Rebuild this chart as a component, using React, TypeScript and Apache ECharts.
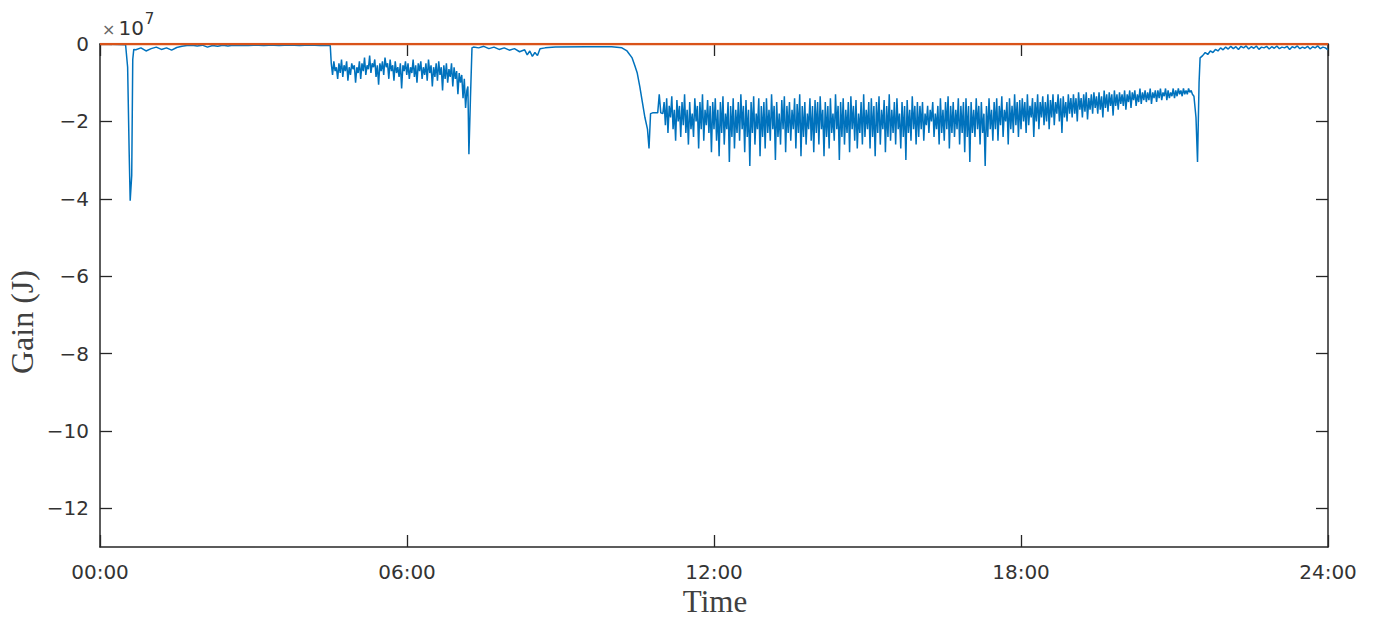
import React, { useEffect, useRef } from "react";
import * as echarts from "echarts";

// Time in hours, gain in units of 1e7 J
const spikeNight: [number, number][] = [
  [0, 0], [0.5, -0.02], [0.54, -0.6], [0.57, -2.8], [0.59, -4.05], [0.62, -3.4], [0.64, -0.4], [0.66, -0.14],
];
const earlyQuietStart = 0.7;
const earlyQuietStep = 0.1;
const earlyQuiet = [
  -0.15, -0.1, -0.18, -0.12, -0.08, -0.14, -0.1, -0.16, -0.09, -0.06,
  -0.04, -0.03, -0.05, -0.03, -0.08, -0.04, -0.06, -0.03, -0.05, -0.03,
  -0.04, -0.03, -0.04, -0.03, -0.03, -0.04, -0.03, -0.03, -0.04, -0.03,
  -0.03, -0.03, -0.04, -0.03, -0.03, -0.03, -0.04, -0.03, -0.04,
];
const morningStart = 4.52;
const morningStep = 0.025;
const morningNoisy = [
  -0.5, -0.8, -0.45, -0.7, -0.6, -0.9, -0.5, -0.75, -0.4, -0.85, -0.55, -0.7, -0.45, -0.95, -0.6, -0.8, -0.5, -0.65, -0.55, -1.0,
  -0.6, -0.75, -0.45, -0.9, -0.5, -0.7, -0.35, -0.8, -0.55, -0.65, -0.3, -0.75, -0.5, -0.6, -0.4, -0.85, -0.55, -1.05, -0.5, -0.7,
  -0.45, -0.8, -0.35, -0.6, -0.5, -0.9, -0.4, -0.7, -0.55, -0.95, -0.45, -0.75, -0.6, -0.85, -0.5, -1.15, -0.55, -0.7, -0.45, -0.8,
  -0.5, -0.9, -0.6, -0.75, -0.4, -0.85, -0.55, -1.0, -0.5, -0.7, -0.45, -0.9, -0.6, -0.8, -0.5, -0.95, -0.4, -0.75, -0.55, -1.1,
  -0.6, -0.85, -0.5, -0.95, -0.45, -0.8, -0.6, -1.2, -0.55, -0.9, -0.5, -1.0, -0.65, -0.85, -0.5, -1.1, -0.6, -0.9, -0.7, -1.3,
  -0.75, -1.0, -0.8, -1.4, -0.9, -1.65, -1.2,
];
const spikeMorning: [number, number][] = [
  [7.19, -1.1], [7.21, -2.85], [7.24, -1.4], [7.27, -0.1],
];
const middayQuiet: [number, number][] = [
  [7.3, -0.08], [7.4, -0.1], [7.5, -0.06], [7.6, -0.12], [7.7, -0.08], [7.8, -0.14],
  [7.9, -0.1], [8.0, -0.16], [8.1, -0.12], [8.2, -0.2], [8.3, -0.15], [8.35, -0.28],
  [8.4, -0.18], [8.45, -0.32], [8.5, -0.22], [8.55, -0.3], [8.6, -0.12], [8.7, -0.1],
  [8.9, -0.08], [9.5, -0.07], [10.0, -0.07], [10.2, -0.1], [10.3, -0.18], [10.4, -0.36],
  [10.45, -0.55], [10.5, -0.75], [10.55, -1.1], [10.6, -1.5], [10.65, -1.9], [10.7, -2.2],
  [10.73, -2.7], [10.76, -1.8], [10.8, -1.78], [10.9, -1.78], [10.93, -1.3], [10.96, -1.78],
];
const afternoonStart = 11.0;
const afternoonStep = 0.025;
const afternoonNoisy = [
  -1.8, -1.5, -2.1, -1.4, -2.3, -1.6, -1.9, -1.35, -2.2, -1.7, -2.5, -1.45, -2.0, -1.6, -2.4, -1.5, -2.1, -1.3, -2.3, -1.7,
  -2.6, -1.5, -2.2, -1.8, -2.4, -1.4, -2.0, -1.6, -2.7, -1.5, -2.2, -1.3, -2.5, -1.7, -2.1, -1.45, -2.3, -1.6, -2.8, -1.5,
  -2.2, -1.4, -2.5, -1.7, -2.9, -1.5, -2.3, -1.35, -2.6, -1.8, -2.2, -1.5, -3.05, -1.6, -2.4, -1.4, -2.7, -1.7, -2.3, -1.5,
  -2.5, -1.3, -2.2, -1.6, -2.8, -1.45, -2.4, -1.7, -3.15, -1.5, -2.3, -1.35, -2.6, -1.8, -2.2, -1.4, -2.9, -1.6, -2.4, -1.5,
  -2.7, -1.4, -2.3, -1.7, -2.5, -1.3, -2.2, -1.6, -3.0, -1.5, -2.4, -1.8, -2.6, -1.45, -2.2, -1.35, -2.8, -1.6, -2.3, -1.5,
  -2.5, -1.7, -2.2, -1.4, -2.7, -1.55, -2.3, -1.3, -2.9, -1.6, -2.4, -1.5, -2.6, -1.8, -2.2, -1.4, -2.5, -1.6, -2.8, -1.45,
  -2.3, -1.5, -2.6, -1.35, -2.2, -1.7, -2.9, -1.5, -2.4, -1.6, -2.7, -1.4, -2.3, -1.8, -2.5, -1.3, -2.2, -1.6, -3.0, -1.5,
  -2.4, -1.4, -2.6, -1.7, -2.3, -1.5, -2.8, -1.35, -2.2, -1.6, -2.5, -1.45, -2.7, -1.8, -2.3, -1.5, -2.6, -1.3, -2.4, -1.7,
  -2.2, -1.5, -2.7, -1.4, -2.4, -1.6, -2.9, -1.5, -2.3, -1.35, -2.6, -1.7, -2.2, -1.45, -2.8, -1.6, -2.4, -1.3, -2.5, -1.7,
  -2.3, -1.5, -2.6, -1.4, -2.2, -1.8, -2.7, -1.5, -2.4, -1.6, -3.0, -1.45, -2.3, -1.7, -2.5, -1.35, -2.2, -1.6, -2.6, -1.5,
  -2.4, -1.6, -2.2, -1.5, -2.5, -1.8, -2.1, -1.6, -2.3, -1.7, -2.0, -1.5, -2.4, -1.8, -2.2, -1.6, -2.6, -1.4, -2.3, -1.7,
  -2.5, -1.5, -2.2, -1.35, -2.7, -1.6, -2.3, -1.5, -2.4, -1.7, -2.2, -1.4, -2.6, -1.6, -2.3, -1.5, -2.8, -1.4, -2.4, -1.6,
  -3.05, -1.5, -2.3, -1.7, -2.4, -1.4, -2.2, -1.6, -2.6, -1.5, -2.3, -1.8, -3.15, -1.6, -2.4, -1.4, -2.2, -1.7, -2.5, -1.5,
  -2.2, -1.4, -2.5, -1.6, -2.1, -1.35, -2.4, -1.7, -2.0, -1.5, -2.6, -1.4, -2.2, -1.6, -2.3, -1.3, -2.1, -1.5, -2.4, -1.45,
  -2.2, -1.4, -2.0, -1.5, -2.3, -1.3, -2.1, -1.6, -1.9, -1.4, -2.4, -1.5, -2.0, -1.3, -2.2, -1.5, -1.9, -1.35, -2.1, -1.5,
  -2.0, -1.3, -2.2, -1.45, -1.9, -1.3, -2.1, -1.5, -1.8, -1.3, -2.0, -1.4, -2.3, -1.35, -1.9, -1.5, -2.0, -1.3, -1.8, -1.4,
  -1.9, -1.3, -1.8, -1.4, -2.0, -1.25, -1.7, -1.4, -1.9, -1.3, -1.75, -1.25, -1.95, -1.4, -1.7, -1.3, -1.8, -1.25, -1.65, -1.35,
  -1.8, -1.25, -1.7, -1.35, -1.9, -1.2, -1.65, -1.3, -1.75, -1.25, -1.6, -1.3, -1.85, -1.2, -1.6, -1.3, -1.7, -1.25, -1.55, -1.3,
  -1.6, -1.2, -1.7, -1.3, -1.5, -1.2, -1.65, -1.25, -1.45, -1.2, -1.6, -1.3, -1.5, -1.15, -1.55, -1.25, -1.45, -1.2, -1.5, -1.25,
  -1.45, -1.15, -1.55, -1.25, -1.4, -1.2, -1.5, -1.2, -1.4, -1.15, -1.45, -1.25, -1.35, -1.15, -1.45, -1.2, -1.4, -1.25, -1.35, -1.15,
  -1.4, -1.2, -1.35, -1.15, -1.3, -1.2, -1.35, -1.15, -1.3, -1.2, -1.3, -1.15, -1.25, -1.2, -1.3,
];
const spikeEvening: [number, number][] = [
  [21.38, -1.35], [21.42, -1.9], [21.45, -3.05], [21.48, -1.0],
];
const nightStart = 21.5;
const nightStep = 0.05;
const nightQuiet = [
  -0.36, -0.3, -0.22, -0.27, -0.18, -0.22, -0.14, -0.18, -0.1, -0.15,
  -0.08, -0.13, -0.06, -0.12, -0.07, -0.14, -0.06, -0.1, -0.05, -0.13,
  -0.07, -0.11, -0.05, -0.14, -0.08, -0.1, -0.06, -0.13, -0.07, -0.11,
  -0.05, -0.12, -0.08, -0.1, -0.06, -0.14, -0.07, -0.1, -0.05, -0.12,
  -0.08, -0.11, -0.06, -0.13, -0.07, -0.1, -0.05, -0.12, -0.08, -0.1, -0.15,
];
const referenceLine: [number, number][] = [[0, 0], [24, 0]];
const xTicks = [0, 6, 12, 18, 24];
const yTicks = [0, -2, -4, -6, -8, -10, -12];

function spread(start: number, step: number, vals: number[]): [number, number][] {
  return vals.map((v, i) => [start + i * step, v]);
}

const gainSeries: [number, number][] = [
  ...spikeNight,
  ...spread(earlyQuietStart, earlyQuietStep, earlyQuiet),
  [4.5, -0.04],
  ...spread(morningStart, morningStep, morningNoisy),
  ...spikeMorning,
  ...middayQuiet,
  ...spread(afternoonStart, afternoonStep, afternoonNoisy),
  ...spikeEvening,
  ...spread(nightStart, nightStep, nightQuiet),
];

const pad = (n: number) => (n < 10 ? "0" + n : "" + n);
const AXIS = "#262626";
const SANS = "DejaVu Sans, Arial, sans-serif";
const SERIF = "Liberation Serif, Times New Roman, serif";

export default function App() {
  const ref = useRef<HTMLDivElement>(null);
  useEffect(() => {
    if (!ref.current) return;
    const chart = echarts.init(ref.current, undefined, { renderer: "svg" });
    const tickStyle = { show: true, inside: true, length: 12, lineStyle: { color: AXIS, width: 1.3 } };
    chart.setOption({
      animation: false,
      backgroundColor: "#ffffff",
      grid: { left: 100, right: 48, top: 44, bottom: 76, containLabel: false, outerBoundsMode: "none" },
      xAxis: [
        {
          type: "value",
          min: 0,
          max: 24,
          interval: 6,
          position: "bottom",
          splitLine: { show: false },
          axisLine: { show: true, onZero: false, lineStyle: { color: AXIS, width: 1.5 } },
          axisTick: { ...tickStyle, customValues: xTicks },
          axisLabel: {
            customValues: xTicks,
            formatter: (v: number) => pad(v) + ":00",
            color: "#333333",
            fontFamily: SANS,
            fontSize: 20,
            margin: 15,
          },
        },
        {
          type: "value",
          min: 0,
          max: 24,
          interval: 6,
          position: "top",
          splitLine: { show: false },
          axisLine: { show: true, onZero: false, lineStyle: { color: AXIS, width: 1.5 } },
          axisTick: { ...tickStyle, customValues: xTicks },
          axisLabel: { show: false },
        },
      ],
      yAxis: [
        {
          type: "value",
          min: -13,
          max: 0,
          position: "left",
          splitLine: { show: false },
          axisLine: { show: true, onZero: false, lineStyle: { color: AXIS, width: 1.5 } },
          axisTick: { ...tickStyle, customValues: yTicks },
          axisLabel: {
            customValues: yTicks,
            formatter: (v: number) => (v < 0 ? "\u2212" + Math.abs(v) : "" + v),
            color: "#333333",
            fontFamily: SANS,
            fontSize: 20,
            margin: 11,
          },
        },
        {
          type: "value",
          min: -13,
          max: 0,
          position: "right",
          splitLine: { show: false },
          axisLine: { show: true, onZero: false, lineStyle: { color: AXIS, width: 1.5 } },
          axisTick: { ...tickStyle, customValues: yTicks },
          axisLabel: { show: false },
        },
      ],
      graphic: [
        {
          type: "text",
          x: 102,
          y: 38,
          style: {
            text: "{x|\u00d7}{b|10}{s|7}",
            verticalAlign: "bottom",
            rich: {
              x: { fontFamily: SANS, fontSize: 16, fill: "#666666", verticalAlign: "bottom", padding: [0, 3, 1, 0] },
              b: { fontFamily: SANS, fontSize: 20, fill: "#333333", verticalAlign: "bottom" },
              s: { fontFamily: SANS, fontSize: 15, fill: "#333333", verticalAlign: "top", padding: [0, 0, 12, 1] },
            },
          },
        },
        {
          type: "text",
          x: 22,
          y: 322,
          rotation: Math.PI / 2,
          style: {
            text: "Gain (J)",
            fontFamily: SERIF,
            fontSize: 32,
            fill: "#404040",
            align: "center",
            verticalAlign: "middle",
          },
        },
        {
          type: "text",
          x: 715,
          y: 601,
          style: {
            text: "Time",
            fontFamily: SERIF,
            fontSize: 31,
            fill: "#404040",
            align: "center",
            verticalAlign: "middle",
          },
        },
      ],
      series: [
        {
          type: "line",
          data: gainSeries,
          showSymbol: false,
          symbol: "none",
          lineStyle: { color: "#0072BD", width: 1.5 },
          z: 2,
        },
        {
          type: "line",
          data: referenceLine,
          showSymbol: false,
          symbol: "none",
          lineStyle: { color: "#D95319", width: 2.5 },
          z: 3,
        },
      ],
    });
    return () => chart.dispose();
  }, []);
  return (
    <div
      ref={ref}
      style={{ position: "fixed", left: 0, top: 0, width: 1376, height: 623, background: "#fff" }}
    />
  );
}
